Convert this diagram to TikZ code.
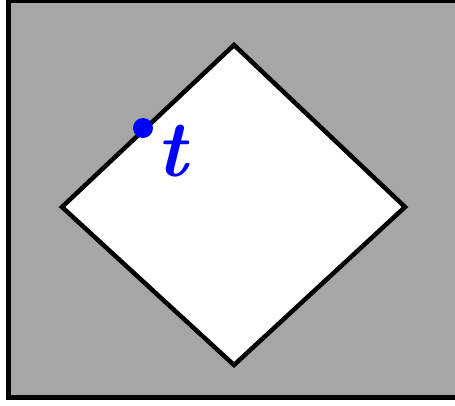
\documentclass[tikz,border=0pt]{standalone}
\usepackage{fontspec}
\usepackage{tikz}
\definecolor{boxgray}{RGB}{166, 166, 166}
\definecolor{pointblue}{RGB}{0, 0, 255}

\begin{document}
\begin{tikzpicture}[x=1pt, y=-1pt, line join=miter]
    \useasboundingbox (0,0) rectangle (455,405);
    \clip (0,0) rectangle (455,405);
    \draw [fill=boxgray, line width=5pt] (8.5,0) rectangle (470,397.5);
    
    \coordinate (top) at (234,45);
    \coordinate (right) at (405,207);
    \coordinate (bottom) at (234,365);
    \coordinate (left) at (62,207);
    \draw [fill=white, line width=4.5pt] (top) -- (right) -- (bottom) -- (left) -- cycle;
    
    \node [circle, fill=pointblue, inner sep=0pt, minimum size=20pt] (pt) at (143,128) {};
    \node [text=pointblue, inner sep=0pt, font=\fontsize{80}{80}\selectfont\bfseries\itshape] (tlabel) at (172,151) {t};
\end{tikzpicture}
\end{document}
